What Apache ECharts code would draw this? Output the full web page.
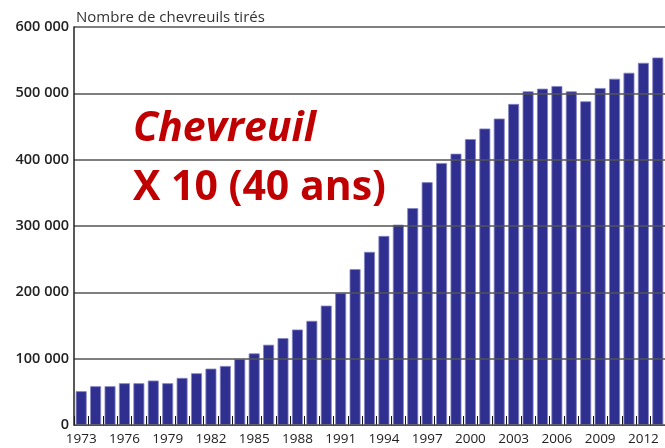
<!DOCTYPE html>
<html>
<head>
<meta charset="utf-8">
<script src="https://cdn.jsdelivr.net/npm/echarts@6/dist/echarts.min.js"></script>
<style>
  html, body { margin: 0; padding: 0; background: #fff; }
  #container { width: 665px; height: 448px; }
</style>
</head>
<body>
<div id="container"></div>
<script>
// années (1973 -> 2013)
var years = [];
for (var y = 1973; y <= 2013; y++) years.push(String(y));

// nombre de chevreuils tirés
var killed = [
    51000, 58500, 58500, 63000, 63000, 67000, 63000, 71000, 78000, 85000,
    89000, 99500, 108000, 121000, 131000, 144000, 157000, 180000, 199000, 235000,
    261000, 285000, 302000, 327000, 366000, 395000, 409000, 431000, 447000, 462000,
    484000, 503000, 507000, 511000, 503000, 488000, 508000, 522000, 531000, 546000,
    554000
];

var titleText = 'Nombre de chevreuils tirés';
var noteLine1 = 'Chevreuil';
var noteLine2 = 'X 10 (40 ans)';

var dom = document.getElementById('container');
var myChart = echarts.init(dom);

var fmt = function (v) {
    if (v === 0) return '0';
    return String(v / 1000) + ' 000';
};

var option = {
    animation: false,
    title: {
        text: titleText,
        left: 71,
        top: 5,
        textStyle: { fontFamily: 'Open Sans', fontSize: 15, fontWeight: 'normal', color: '#333' }
    },
    grid: { left: 74, right: -3, top: 27, bottom: 23, containLabel: false },
    xAxis: {
        type: 'category',
        data: years,
        axisLine: { lineStyle: { color: '#333', width: 1 } },
        axisTick: { show: true, inside: true, length: 9, interval: 0, lineStyle: { color: '#111' } },
        axisLabel: {
            interval: 2, margin: 7,
            fontFamily: 'Open Sans', fontSize: 13.5, color: '#222'
        }
    },
    yAxis: {
        type: 'value',
        min: 0, max: 600000, interval: 100000,
        z: 5,
        axisLine: { show: true, lineStyle: { color: '#222', width: 1.5 } },
        axisTick: { show: false },
        splitLine: { lineStyle: { color: '#555', width: 1.5 } },
        axisLabel: {
            formatter: fmt, margin: 5, padding: [10, 0, 0, 0],
            fontFamily: 'Open Sans', fontSize: 14.5, fontWeight: 600, color: '#222'
        }
    },
    series: [{
        type: 'bar',
        data: killed,
        barWidth: '76%',
        itemStyle: { color: '#2f2f8f', borderColor: '#8585c4', borderWidth: 0.8 }
    }],
    graphic: [
        {
            type: 'text', left: 133, top: 109,
            style: { text: noteLine1, fill: '#c00000', font: 'italic bold 41px "Open Sans"' }
        },
        {
            type: 'text', left: 133, top: 168,
            style: { text: noteLine2, fill: '#c00000', font: 'bold 41px "Open Sans"' }
        }
    ]
};

myChart.setOption(option, true);
</script>
</body>
</html>
